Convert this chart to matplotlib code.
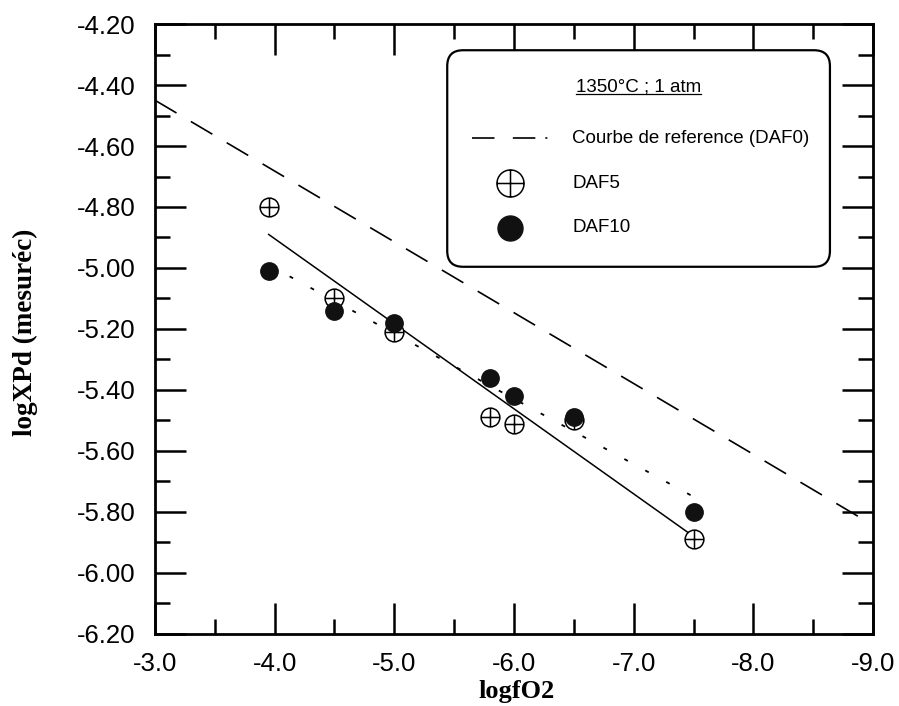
import matplotlib
matplotlib.use('Agg')
import matplotlib.pyplot as plt
from matplotlib.path import Path
from matplotlib.patches import FancyBboxPatch
from matplotlib.ticker import MultipleLocator, FormatStrFormatter

plt.rcParams['font.family'] = ['Liberation Sans', 'DejaVu Sans']
plt.rcParams['axes.unicode_minus'] = False

# measured points, logfO2 vs logXPd
x_daf5 = [-3.95, -4.5, -5.0, -5.8, -6.0, -6.5, -7.5]
y_daf5 = [-4.80, -5.10, -5.21, -5.49, -5.51, -5.50, -5.89]
x_daf10 = [-3.95, -4.5, -5.0, -5.8, -6.0, -6.5, -7.5]
y_daf10 = [-5.01, -5.14, -5.18, -5.36, -5.42, -5.49, -5.80]

# straight lines (end points)
x_ref = [-3.0, -8.9]
y_ref = [-4.45, -5.82]
x_fit5 = [-3.95, -7.5]
y_fit5 = [-4.89, -5.88]
x_fit10 = [-3.95, -7.5]
y_fit10 = [-4.99, -5.75]

legend_title = "1350°C ; 1 atm"
legend_labels = ["Courbe de reference (DAF0)", "DAF5", "DAF10"]

# circle with a cross inside
circ = Path.unit_circle()
cross = Path([(-1, 0), (1, 0), (0, -1), (0, 1)],
             [Path.MOVETO, Path.LINETO, Path.MOVETO, Path.LINETO])
oplus = Path.make_compound_path(circ, cross)

fig = plt.figure(figsize=(8.99, 7.06), dpi=100)
ax = fig.add_axes([0.1724, 0.102, 0.7987, 0.864])

ax.plot(x_ref, y_ref, color='k', lw=1.2, ls=(0, (15, 10)), zorder=2)
ax.plot(x_fit5, y_fit5, color='k', lw=1.1, zorder=2)
ax.plot(x_fit10, y_fit10, color='k', lw=1.3, ls=(0, (2.2, 11)), zorder=2)

ax.plot(x_daf5, y_daf5, ls='none', marker=oplus, ms=13.5, mfc='white',
        mec='k', mew=1.1, zorder=3)
ax.plot(x_daf10, y_daf10, ls='none', marker='o', ms=12.5, color='#111111',
        zorder=4)

ax.set_xlim(-3.0, -9.0)
ax.set_ylim(-6.2, -4.2)
ax.xaxis.set_major_locator(MultipleLocator(1.0))
ax.xaxis.set_minor_locator(MultipleLocator(0.5))
ax.yaxis.set_major_locator(MultipleLocator(0.2))
ax.yaxis.set_minor_locator(MultipleLocator(0.1))
ax.xaxis.set_major_formatter(FormatStrFormatter('%.1f'))
ax.yaxis.set_major_formatter(FormatStrFormatter('%.2f'))

ax.tick_params(which='both', direction='in', top=True, right=True, color='k')
ax.tick_params(which='major', length=22, width=1.8, labelsize=18.5)
ax.tick_params(which='minor', length=11, width=1.8)
ax.tick_params(axis='y', pad=14)
ax.tick_params(axis='x', pad=13)
for sp in ax.spines.values():
    sp.set_linewidth(2.0)

ax.set_xlabel('logfO2', fontfamily='Liberation Serif', fontweight='bold',
              fontsize=19, va='center')
ax.xaxis.set_label_coords(0.504, -0.095)
ax.set_ylabel('logXPd (mesuréc)', fontfamily='Liberation Serif',
              fontweight='bold', fontsize=19.5, va='center')
ax.yaxis.set_label_coords(-0.181, 0.495)

# legend box drawn by hand (underlined title)
box = FancyBboxPatch((0.407, 0.602), 0.533, 0.355,
                     boxstyle="round,pad=0,rounding_size=0.022",
                     mutation_aspect=1.18, transform=ax.transAxes,
                     fc='white', ec='k', lw=1.6, zorder=5)
ax.add_patch(box)
title = ax.text(0.673, 0.897, legend_title, transform=ax.transAxes,
                ha='center', va='center', fontsize=13.5, zorder=6)
fig.canvas.draw()
bb = title.get_window_extent().transformed(ax.transAxes.inverted())
ax.plot([bb.x0, bb.x1], [bb.y0 + 0.002, bb.y0 + 0.002], transform=ax.transAxes,
        color='k', lw=0.9, zorder=6)

ax.plot([0.4415, 0.5487], [0.813, 0.813], transform=ax.transAxes, color='k',
        lw=1.2, ls=(0, (13.5, 11, 13.5, 6, 1.2, 20)), zorder=6)
ax.plot([0.494], [0.739], transform=ax.transAxes, ls='none', marker=oplus,
        ms=19.5, mfc='white', mec='k', mew=1.1, zorder=6)
ax.plot([0.494], [0.666], transform=ax.transAxes, ls='none', marker='o',
        ms=18, color='#111111', zorder=6)
for lab, yy in zip(legend_labels, [0.813, 0.739, 0.666]):
    ax.text(0.581, yy, lab, transform=ax.transAxes, ha='left', va='center',
            fontsize=13.5, zorder=6)

fig.savefig('out.png', dpi=100)
